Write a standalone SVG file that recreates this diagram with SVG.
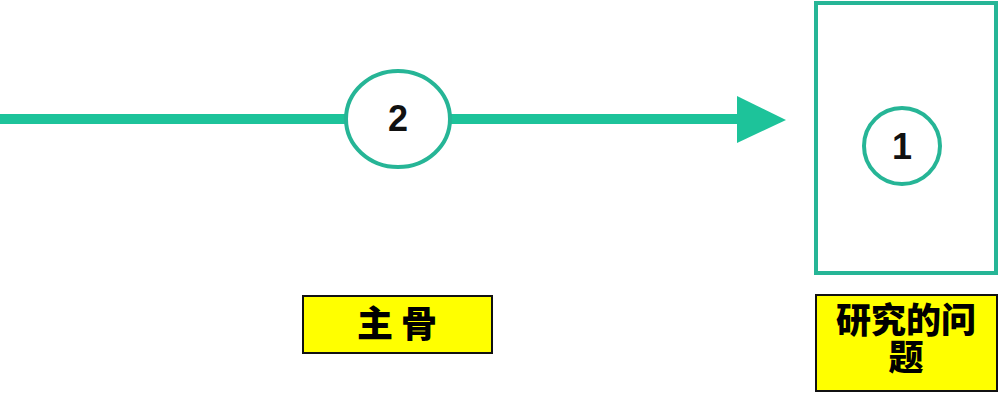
<svg xmlns="http://www.w3.org/2000/svg" width="1005" height="403" viewBox="0 0 1005 403">
<style>
.num{font-family:"Liberation Sans",Arial,sans-serif;font-weight:bold;font-size:36px;fill:#111;text-anchor:middle}
.lbl{font-family:"Noto Sans CJK SC","Liberation Sans",sans-serif;font-weight:900;fill:#000;text-anchor:middle}
.box{fill:#ffff00;stroke:#111;stroke-width:2}
.ring{fill:#fff;stroke:#26b596;stroke-width:4}
</style>
<rect width="1005" height="403" fill="#fff"/>
<g id="connectors">
<line x1="0" y1="119" x2="740" y2="119" stroke="#1dc39a" stroke-width="10"/>
<polygon points="737,96 786,120 737,143" fill="#1dc39a"/>
</g>
<g id="node-problem">
<rect x="816" y="3" width="180" height="270" fill="#fff" stroke="#26b596" stroke-width="4"/>
</g>
<g id="node-1">
<circle class="ring" cx="902" cy="146" r="38"/>
<text class="num" x="902" y="159">1</text>
</g>
<g id="node-2">
<ellipse class="ring" cx="398" cy="119" rx="52" ry="48"/>
<text class="num" x="398" y="131">2</text>
</g>
<g id="label-main">
<rect class="box" x="303" y="296" width="189" height="57"/>
<text class="lbl" x="397" y="337" font-size="36">主 骨</text>
</g>
<g id="label-problem">
<rect class="box" x="816" y="295" width="181" height="96"/>
<text class="lbl" x="906" y="333" font-size="35">研究的问</text>
<text class="lbl" x="906" y="370" font-size="35">题</text>
</g>
</svg>
